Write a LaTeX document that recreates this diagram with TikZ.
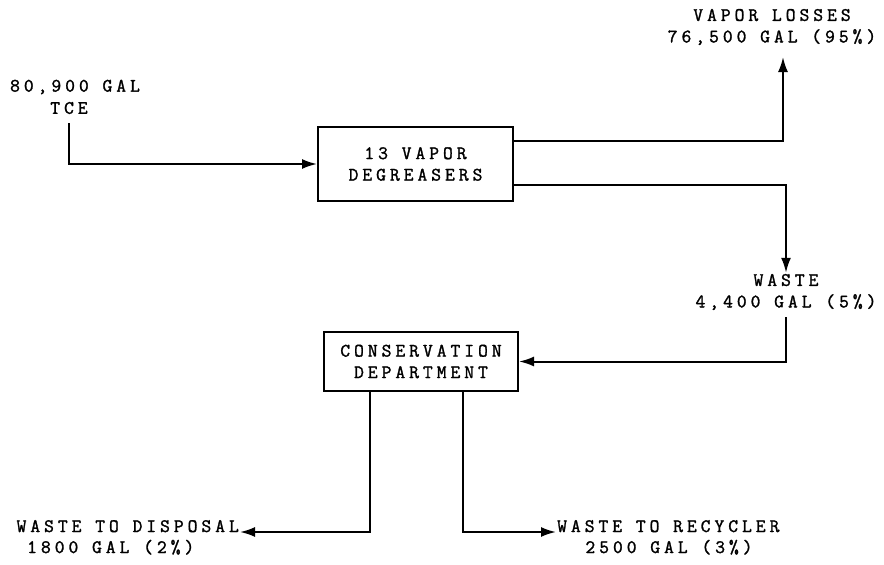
\documentclass[tikz,border=0pt]{standalone}
\usepackage{fontspec}
\setmonofont{Latin Modern Mono}[LetterSpace=21, FakeBold=1.5]
\usetikzlibrary{arrows.meta}
\tikzset{
    unitbox/.style={draw, line width=2pt, inner sep=0pt, align=center},
    lbl/.style={inner sep=1pt, align=center},
    flow/.style={line width=2pt, -{Latex[length=15pt,width=10pt]}}
}
\begin{document}
\begin{tikzpicture}[x=1pt, y=-1pt, font=\ttfamily\fontsize{19pt}{21.5pt}\selectfont]
    \useasboundingbox (0,0) rectangle (884,565);

    % Feed
    \node[lbl] (feed) at (75,87) {80,900 GAL};
    \node[lbl] (tce) at (69,108) {TCE};

    % Units
    \node[unitbox, minimum width=195pt, minimum height=74pt] (deg) at (415.5,164)
        {13 VAPOR\\DEGREASERS};
    \node[unitbox, minimum width=194pt, minimum height=59pt] (cons) at (421,361.5)
        {CONSERVATION\\DEPARTMENT};

    % Streams
    \node[lbl] (loss) at (772,27) {VAPOR LOSSES\\76,500 GAL (95\%)};
    \coordinate (losstip) at (783,57);
    \node[lbl] (waste) at (786,292) {WASTE\\4,400 GAL (5\%)};
    \node[lbl, anchor=base east] (disp) at (240,532) {WASTE TO DISPOSAL};
    \node[lbl, anchor=base west] (dispgal) at (26,553) {1800 GAL (2\%)};
    \node[lbl, anchor=base west] (recy) at (556,532) {WASTE TO RECYCLER};
    \node[lbl, anchor=base] (recygal) at (669,553) {2500 GAL (3\%)};

    % Connectors
    \draw[flow, shorten <=8pt] (tce.south) |- (deg.west);
    \draw[flow] ([yshift=23pt]deg.east) -| (losstip);
    \draw[flow] ([yshift=-21pt]deg.east) -| (waste.north);
    \draw[flow, shorten <=6pt] (waste.south) |- (cons.east);
    \draw[flow] ([xshift=-51pt]cons.south) |- (disp.base east);
    \draw[flow] ([xshift=42pt]cons.south) |- (recy.base west);
\end{tikzpicture}
\end{document}
